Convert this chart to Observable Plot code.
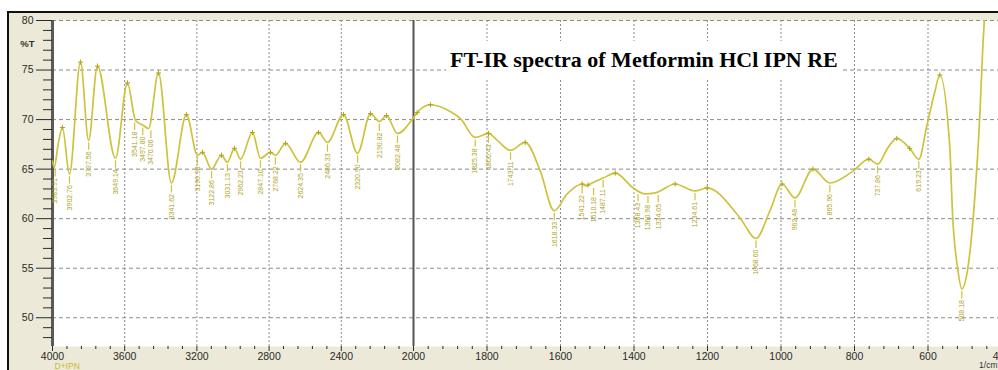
<!DOCTYPE html>
<html><head><meta charset="utf-8">
<script src="https://cdn.jsdelivr.net/npm/d3@7"></script>
<script src="https://cdn.jsdelivr.net/npm/@observablehq/plot@0.6"></script>
<style>
html,body{margin:0;padding:0;background:#fff;overflow:hidden;}
#wrap{position:relative;width:998px;height:370px;overflow:hidden;}
#panel{position:absolute;left:7px;top:11px;width:1000px;height:370px;border-left:2px solid #111;border-top:2px solid #111;background:#ECE9D8;}
#chart{position:absolute;left:0;top:0;}
#title{position:absolute;left:446px;top:41px;height:37px;padding:0 4px;background:#fff;font:bold 22px "Liberation Serif","Times New Roman",serif;line-height:37px;color:#000;white-space:nowrap;}
</style></head><body>
<div id="wrap"><div id="panel"></div><div id="chart"></div><div id="title">FT-IR spectra of Metformin HCl IPN RE</div></div>
<script>
// spectrum (wavenumber in 1/cm, transmittance in %T)
const specWn = [4000,3990,3968,3945,3906,3845,3800,3751,3651,3585,3540,3496,3468,3413,3341,3258,3197,3169,3119,3064,3031,2992,2958,2892,2848,2792,2765,2709,2626,2526,2477,2388,2310,2238,2189,2150,2089,2000,1990,1954,1899,1872,1832,1796,1772,1736,1696,1655,1617,1582,1541,1530,1525,1484,1451,1402,1370,1342,1288,1234,1201,1112,1068,1030,997,962,913,867,804,761,737,710,685,650,625,603,582,568,541,533,519,508,492,473,459,451,446,440,420];
const specT  = [65.8,65.2,67.6,69.2,64.5,75.8,67.9,75.4,66.1,73.7,69.9,69.4,69.1,74.7,63.6,70.5,66.4,66.7,65.0,66.4,65.7,67.1,66.0,68.7,66.1,66.7,66.4,67.6,65.7,68.7,67.7,70.5,66.6,70.6,69.8,70.4,68.6,70.2,70.7,71.5,70.8,70.1,68.2,68.6,67.9,66.9,67.7,64.8,60.8,62.5,63.5,63.3,63.4,64.1,64.6,63.1,62.5,62.6,63.5,62.8,63.1,60.1,58.0,60.8,63.5,62.1,65.0,63.6,64.8,66.0,65.5,67.1,68.1,67.1,66.0,69.4,72.7,74.5,67.4,60.3,54.9,52.9,54.9,62.0,70.4,77.2,80.5,84.0,86.0];

// labelled absorption peaks
const peakWn = [3985,3906,3800,3651,3545,3500,3455,3341,3197,3119,3031,2958,2848,2765,2626,2477,2310,2189,2089,1832,1796,1736,1617,1541,1510,1484,1389,1362,1334,1234,1068,962,867,737,625,508];
const peakT  = [65.2,64.5,67.9,66.1,69.9,69.4,69.1,63.6,66.4,65.0,65.7,66.0,66.1,66.4,65.7,67.7,66.6,69.8,68.6,68.2,68.6,66.9,60.8,63.5,63.3,64.1,62.7,62.5,62.6,62.8,58.0,62.1,63.6,65.5,66.0,52.9];
const peakText = ["3983.91","3902.76","3797.56","3649.14","3541.18","3497.80","3470.06","3341.62","3196.98","3122.86","3031.13","2962.23","2847.10","2768.22","2624.35","2486.33","2320.90","2190.82","2082.48","1825.38","1800.43","1743.11","1618.33","1541.22","1510.18","1487.11","1388.43","1360.98","1334.05","1234.61","1068.60","962.48","865.96","737.86","619.23","508.18"];

// small markers at band maxima
const topWn = [3945,3845,3751,3585,3413,3258,3169,3064,2992,2892,2792,2709,2526,2388,2238,2150,1990,1954,1796,1696,1541,1525,1451,1288,1201,997,913,761,685,650,568];
const topT  = [69.2,75.8,75.4,73.7,74.7,70.5,66.7,66.4,67.1,68.7,66.7,67.6,68.7,70.5,70.6,70.4,70.7,71.5,68.6,67.7,63.5,63.4,64.6,63.5,63.1,63.5,65.0,66.0,68.1,67.1,74.5];

// axis ticks
const xMajor = [4000,3600,3200,2800,2400,2000,1800,1600,1400,1200,1000,800,600,400];
const xGrid = [3600,3200,2800,2400,1800,1600,1400,1200,1000,800,600];
const yMajor = [50,55,60,65,70,75,80];
const xMinor = d3.range(4000, 2000, -80).filter(v => v % 400 !== 0)
  .concat(d3.range(2000, 400, -40).filter(v => v % 200 !== 0));
const yMinor = d3.range(48, 80, 1).filter(v => v % 5 !== 0);

const spectrum = specWn.map((w, i) => ({wn: w, t: specT[i]}));
const peaks = peakWn.map((w, i) => ({wn: w, t: peakT[i], label: peakText[i]}));
const tops = topWn.map((w, i) => ({wn: w, t: topT[i]}));

const lineColor = "#CDC33C";
const labelColor = "#B0A41E";

const chart = Plot.plot({
  width: 998, height: 370,
  marginLeft: 52, marginRight: 0, marginTop: 20, marginBottom: 24,
  style: {background: "transparent", fontFamily: "Liberation Sans, Arial, sans-serif", fontSize: "10.5px", color: "#2a2a2a"},
  x: {type: "linear", domain: [4000, 2000, 400], range: [52, 413, 1001]},
  y: {domain: [47.1, 80]},
  marks: [
    Plot.frame({fill: "white", stroke: "none"}),
    Plot.gridY(yMajor, {stroke: "#8c8c8c", strokeOpacity: 1, strokeDasharray: "4,3"}),
    Plot.gridX(xGrid, {stroke: "#8c8c8c", strokeOpacity: 1, strokeDasharray: "2,2"}),
    Plot.ruleX([2000], {stroke: "#555", strokeWidth: 2}),
    Plot.ruleX([4000], {stroke: "#5a5a5a", strokeWidth: 3}),
    Plot.axisY({ticks: yMajor, tickSize: 16, tickPadding: 3, label: null}),
    Plot.axisY({ticks: yMinor, tickSize: 9, tickFormat: () => "", label: null}),
    Plot.axisX({ticks: xMajor, tickSize: 5, tickPadding: 1, label: null, tickFormat: d => String(d)}),
    Plot.axisX({ticks: xMinor, tickSize: 3, tickFormat: () => "", label: null}),
    Plot.line(spectrum, {x: "wn", y: "t", stroke: lineColor, strokeWidth: 1.7, curve: "monotone-x", clip: true}),
    Plot.ruleX(peaks, {x: "wn", y1: d => d.t - 0.25, y2: d => d.t - 1.0, stroke: lineColor, strokeWidth: 1.2}),
    Plot.text(peaks, {x: "wn", y: "t", text: "label", rotate: -90, textAnchor: "end", lineAnchor: "middle", dy: 11, fontSize: 7, fill: labelColor}),
    Plot.dot(tops, {x: "wn", y: "t", symbol: "plus", r: 1.8, stroke: labelColor, strokeWidth: 1}),
    Plot.text(["%T"], {frameAnchor: "top-left", dx: -18, dy: 23, textAnchor: "end", lineAnchor: "middle", fontSize: 9.5, fontWeight: "bold", fill: "#333"}),
    Plot.text(["D+IPN"], {frameAnchor: "bottom-left", dx: 2, dy: 19.5, textAnchor: "start", lineAnchor: "middle", fontSize: 8.5, fill: "#C9BE33"}),
    Plot.text(["1/cm"], {frameAnchor: "bottom-right", dx: -1, dy: 19, textAnchor: "end", lineAnchor: "middle", fontSize: 8.5, fill: "#333"})
  ]
});
document.getElementById("chart").appendChild(chart);
</script>
</body></html>
